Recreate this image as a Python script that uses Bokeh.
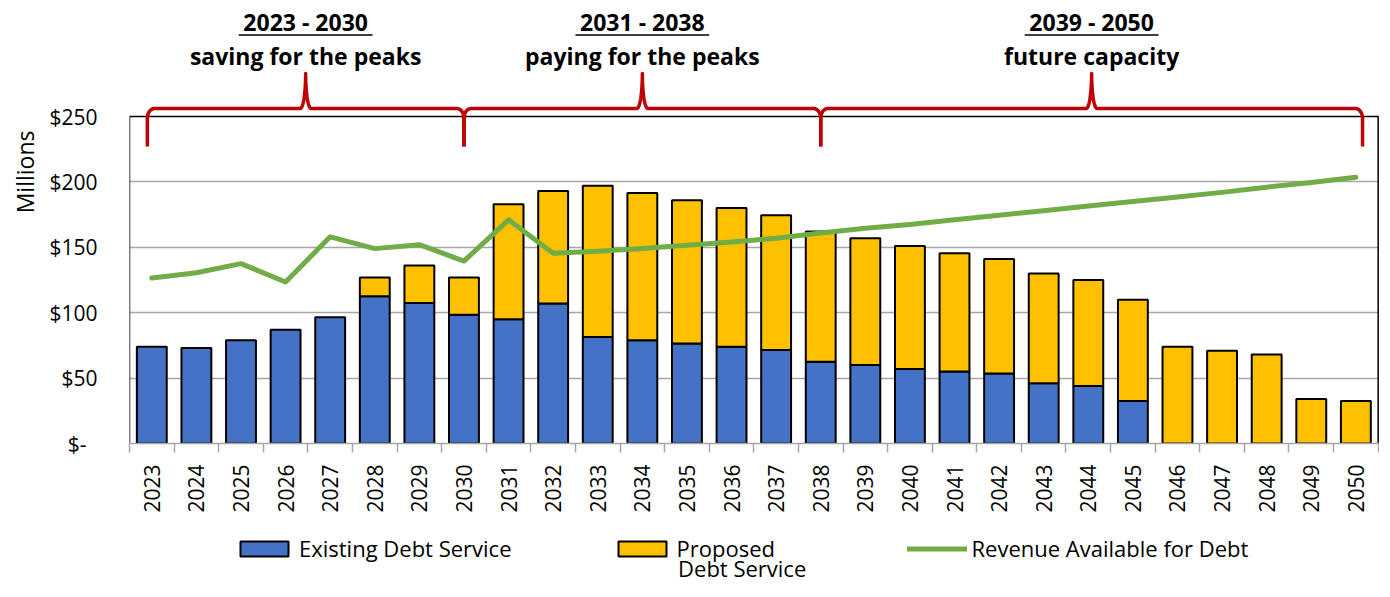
import numpy as np
from bokeh.plotting import figure
from bokeh.layouts import column
from bokeh.models import Range1d, FixedTicker, Legend, LegendItem, ColumnDataSource, Title
from bokeh.core.properties import value
from bokeh.embed import file_html
from bokeh.resources import INLINE

# ---------------- data ----------------
years = [str(y) for y in range(2023, 2051)]
existing = [74, 73, 79, 87, 96.5, 112.5, 107.5, 98.5, 95, 107, 81.5, 79, 76.5, 74,
            71.5, 62.5, 60, 57, 55, 53.5, 46, 44, 32.5, 0, 0, 0, 0, 0]
proposed = [0, 0, 0, 0, 0, 14.5, 28.5, 28.5, 88, 86, 115.5, 112.5, 109.5, 106,
            103, 99.5, 97, 94, 90.5, 87.5, 84, 81, 77.5, 74, 71, 68, 34, 32.5]
revenue = [126.5, 130.5, 137.5, 123.5, 158, 149, 152, 139.5, 171, 145.5, 147, 149,
           151.5, 154, 157, 161, 164.5, 167.5, 171, 174.5, 178, 181.5, 185, 188.5,
           192, 196, 199.5, 203.5]
y_ticks = [0, 50, 100, 150, 200, 250]
y_tick_labels = ["$-\u00a0\u00a0", "$50", "$100", "$150", "$200", "$250"]
period_first = ["2023", "2031", "2039"]
period_last = ["2030", "2038", "2050"]
period_titles = ["2023 - 2030", "2031 - 2038", "2039 - 2050"]
period_subtitles = ["saving for the peaks", "paying for the peaks", "future capacity"]
legend_labels = ["Existing Debt Service", "Proposed", "Revenue Available for Debt"]
legend_label_2nd_line = "Debt Service"

# ---------------- style / layout ----------------
FONT = "Open Sans"
BLUE = "#4472C4"
GOLD = "#FFC000"
GREEN = "#70AD47"
RED = "#C00000"
GRID = "#A6A6A6"
N = len(years)
X_END = N + 0.03
Y_TOP = 338.7
Y_MAX = 250
W = 1379
BORDER_L = 128
H_MAIN = 515
H_LEG = 66

xs = [i + 0.5 for i in range(N)]
total = [e + q for e, q in zip(existing, proposed)]

p = figure(width=W, height=H_MAIN, x_range=Range1d(0, X_END), y_range=Range1d(0, Y_TOP),
           output_backend="svg", toolbar_location=None,
           min_border_left=BORDER_L, min_border_right=0, min_border_top=0, min_border_bottom=72)
p.outline_line_color = None
p.xgrid.visible = False
p.ygrid.ticker = FixedTicker(ticks=[t for t in y_ticks if 0 < t < Y_MAX])
p.ygrid.grid_line_color = GRID
p.ygrid.grid_line_width = 1.5

# frame box (top, left, right); bottom is the x axis line
p.line(x=[0, 0, N, N], y=[0, Y_MAX, Y_MAX, 0], line_color="black", line_width=1.5)

# bars
ex_idx = [i for i in range(N) if existing[i] > 0]
pr_idx = [i for i in range(N) if proposed[i] > 0]
src_e = ColumnDataSource(dict(x=[xs[i] for i in ex_idx], top=[existing[i] for i in ex_idx]))
src_p = ColumnDataSource(dict(x=[xs[i] for i in pr_idx], bottom=[existing[i] for i in pr_idx],
                              top=[total[i] for i in pr_idx]))
bar_style = dict(width=0.67, line_color="black", line_width=2)
p.vbar(x="x", top="top", bottom=0, source=src_e, fill_color=BLUE, **bar_style)
p.vbar(x="x", top="top", bottom="bottom", source=src_p, fill_color=GOLD, **bar_style)
line_style = dict(line_color=GREEN, line_width=5, line_cap="round", line_join="round")
p.line(x=xs, y=revenue, **line_style)

# braces
Y_H, Y_PEAK, Y_TIP = 256.1, 282.9, 227.1
RX_END, RY_END, RX_CUSP = 0.157, 7.6, 0.123
th = np.linspace(0, np.pi / 2, 20)
brace_xs, brace_ys, mids = [], [], []
prev_right = None
for k in range(len(period_first)):
    left = years.index(period_first[k]) + 0.4 if prev_right is None else prev_right
    right = years.index(period_last[k]) + 0.5
    if k == len(period_first) - 1:
        right += 0.15
    prev_right = right
    xm = (left + right) / 2
    mids.append(xm)
    bx = [left, left]
    by = [Y_TIP, Y_H - RY_END]
    bx += list(left + RX_END - RX_END * np.cos(th))
    by += list(Y_H - RY_END + RY_END * np.sin(th))
    bx += list(xm - RX_CUSP + RX_CUSP * np.sin(th))
    by += list(Y_PEAK - (Y_PEAK - Y_H) * np.cos(th))
    bx += list(xm + RX_CUSP - RX_CUSP * np.sin(th[::-1]))
    by += list(Y_PEAK - (Y_PEAK - Y_H) * np.cos(th[::-1]))
    bx += list(right - RX_END + RX_END * np.cos(th[::-1]))
    by += list(Y_H - RY_END + RY_END * np.sin(th[::-1]))
    bx += [right]
    by += [Y_TIP]
    brace_xs.append(bx)
    brace_ys.append(by)
p.multi_line(xs=brace_xs, ys=brace_ys, line_color=RED, line_width=3.5, line_join="round")

# period texts
Y_T1, Y_UL, Y_T2 = 321.9, 312.3, 296.6
UL_HALF = 1.5
p.text(x=mids, y=[Y_T1] * 3, text=period_titles, text_font=value(FONT),
       text_font_style="bold", text_font_size="23px", text_align="center",
       text_baseline="middle", text_color="black")
p.segment(x0=[m - UL_HALF for m in mids], x1=[m + UL_HALF for m in mids],
          y0=[Y_UL] * 3, y1=[Y_UL] * 3, line_color="black", line_width=1.5)
p.text(x=mids, y=[Y_T2] * 3, text=period_subtitles, text_font=value(FONT),
       text_font_style="bold", text_font_size="23px", text_align="center",
       text_baseline="middle", text_color="black")

# x axis
xa = p.xaxis[0]
xa.ticker = FixedTicker(ticks=xs, minor_ticks=list(range(N + 1)))
xa.major_label_overrides = {x: y for x, y in zip(xs, years)}
xa.major_label_orientation = np.pi / 2
xa.major_tick_line_color = None
xa.major_tick_out = 0
xa.major_tick_in = 0
xa.minor_tick_line_color = GRID
xa.minor_tick_line_width = 1.5
xa.minor_tick_out = 9
xa.minor_tick_in = 0
xa.axis_line_color = GRID
xa.axis_line_width = 1.5
xa.major_label_standoff = 12
xa.major_label_text_font = FONT
xa.major_label_text_font_size = "21px"
xa.major_label_text_color = "black"

# y axis
ya = p.yaxis[0]
ya.ticker = FixedTicker(ticks=y_ticks)
ya.major_label_overrides = {t: s for t, s in zip(y_ticks, y_tick_labels)}
ya.axis_line_color = None
ya.major_tick_line_color = None
ya.minor_tick_line_color = None
ya.major_tick_out = 0
ya.major_label_standoff = 32
ya.major_label_text_font = FONT
ya.major_label_text_font_size = "21px"
ya.major_label_text_color = "black"

p.add_layout(Title(text="Millions", align="right", offset=130, standoff=12,
                   text_font=FONT, text_font_size="23px", text_font_style="normal",
                   text_color="black"), "left")

# legend strip below the chart (frame aligned with the chart frame)
FRAME_W = W - BORDER_L
p2 = figure(width=W, height=H_LEG, x_range=Range1d(0, FRAME_W), y_range=Range1d(0, H_LEG),
            output_backend="svg", toolbar_location=None,
            x_axis_location=None, y_axis_location=None,
            min_border_left=0, min_border_right=0, min_border_top=0, min_border_bottom=0)
p2.outline_line_color = None
p2.grid.visible = False
# legend-only renderers (hidden in the strip itself)
lr_e = p2.vbar(x=[600], bottom=[10], top=[20], fill_color=BLUE, visible=False, **bar_style)
lr_p = p2.vbar(x=[600], bottom=[10], top=[20], fill_color=GOLD, visible=False, **bar_style)
lr_r = p2.line(x=[600, 610], y=[10, 10], visible=False, **line_style)
LEG_X, LEG_Y = 105, 18
legend = Legend(items=[LegendItem(label=legend_labels[0], renderers=[lr_e]),
                       LegendItem(label=legend_labels[1], renderers=[lr_p]),
                       LegendItem(label=legend_labels[2], renderers=[lr_r])],
                orientation="horizontal", location=(LEG_X, LEG_Y),
                glyph_width=60, glyph_height=19, label_standoff=5,
                spacing=100, label_width=130,
                padding=0, margin=0, border_line_color=None, background_fill_alpha=0,
                inactive_fill_alpha=0,
                label_text_font=FONT, label_text_font_size="22px",
                label_text_color="black")
p2.add_layout(legend)
# second line of the "Proposed Debt Service" label
p2.text(x=[549], y=[14], text=[legend_label_2nd_line], text_font=value(FONT),
        text_font_size="22px", text_align="left", text_baseline="middle",
        text_color="black")

layout = column(p, p2, spacing=0)
open("out.html", "w").write(file_html(layout, INLINE))
